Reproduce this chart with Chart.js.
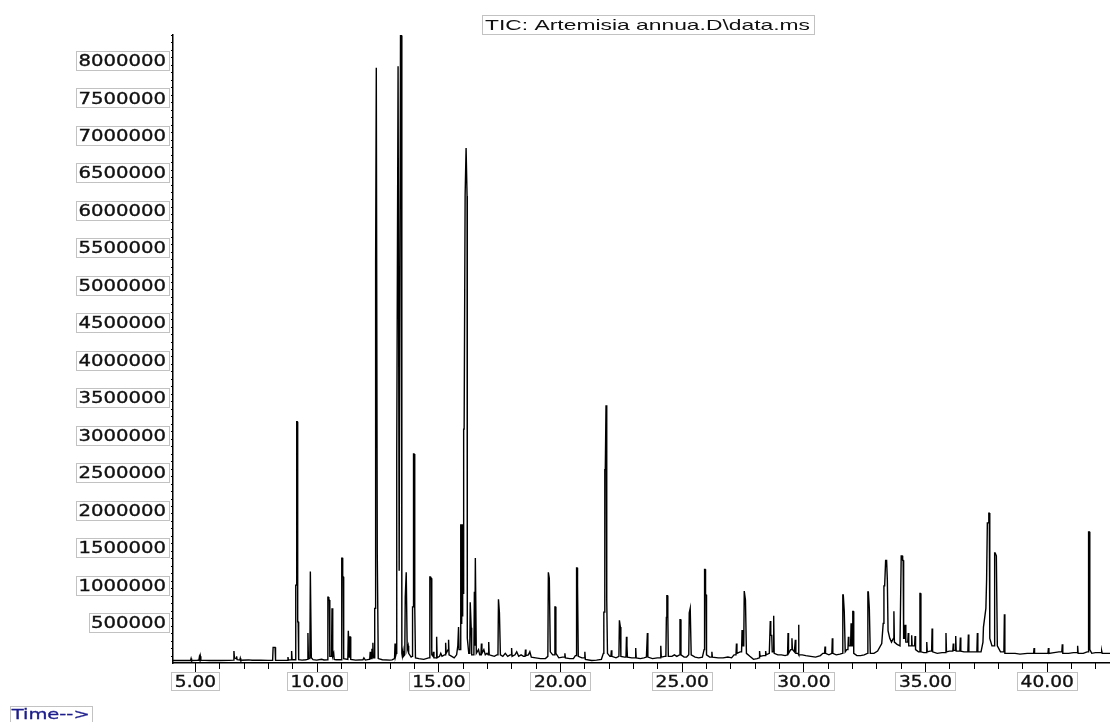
<!DOCTYPE html>
<html>
<head>
<meta charset="utf-8">
<script src="https://cdn.jsdelivr.net/npm/chart.js@4.4.1/dist/chart.umd.min.js"></script>
<style>
  html, body { margin: 0; padding: 0; background: #fff; }
  canvas { display: block; }
</style>
</head>
<body>
<canvas id="c" width="1110" height="722"></canvas>
<script>
// ---- Data: [retention time (min), abundance] ----
const segmentEarly = [
  [4.09,5000],[4.50,6000],[4.82,4000],[4.84,30000],[4.86,4000],[5.10,8000],[5.16,10000],[5.18,50000],[5.20,20000],[5.22,60000],[5.24,10000],
  [5.60,5000],[6.00,4000],[6.40,6000],[6.58,10000],[6.60,130000],[6.62,40000],[6.69,30000],[6.71,60000],[6.73,15000],[6.84,10000],[6.86,35000],[6.88,8000],
  [7.20,12000],[7.35,8000],[7.70,8000],[8.00,6000],[8.19,8000],[8.21,180000],[8.29,180000],[8.31,8000],[8.60,6000],[8.80,8000],
  [8.82,50000],[8.84,10000],[8.95,15000],[8.97,130000],[8.99,15000],[9.13,15000],[9.14,1010000],[9.16,1010000],[9.18,3190000],[9.20,3190000],
  [9.22,520000],[9.24,520000],[9.26,15000],[9.40,10000],[9.55,15000],[9.62,20000],[9.64,370000],[9.66,30000],[9.72,30000],[9.74,1190000],
  [9.76,1190000],[9.78,40000],[9.85,15000],[10.00,10000],[10.20,20000],[10.30,12000],[10.44,15000],[10.46,850000],[10.48,850000],[10.50,810000],
  [10.52,810000],[10.54,60000],[10.61,60000],[10.63,700000],[10.65,700000],[10.67,60000],[10.70,100000],[10.72,20000],[10.80,15000],[11.00,15000],
  [11.02,20000],[11.04,1370000],[11.06,1370000],[11.07,1120000],[11.09,1120000],[11.11,30000],[11.28,20000],[11.30,400000],[11.32,400000],[11.34,50000],
  [11.36,320000],[11.38,320000],[11.40,20000],[11.60,10000],[11.90,15000],[11.94,40000],[12.00,10000],[12.15,20000],[12.18,20000],[12.20,120000],
  [12.22,30000],[12.25,30000],[12.27,160000],[12.29,60000],[12.31,240000],[12.33,40000],[12.37,40000],[12.385,700000],[12.40,700000],[12.415,5320000],
  [12.43,5320000],[12.45,7910000],[12.47,7910000],[12.49,1420000],[12.51,1420000],[12.53,30000],[12.70,15000]
];
const segmentMid = [
  [13.00,10000],[13.10,12000],[13.20,30000],[13.22,230000],[13.24,60000],[13.27,100000],[13.28,2770000],[13.30,2770000],[13.345,7930000],[13.365,7930000],
  [13.39,1200000],[13.42,1200000],[13.445,8340000],[13.48,8340000],[13.50,100000],[13.52,60000],[13.55,130000],[13.57,60000],[13.62,80000],[13.64,850000],
  [13.66,850000],[13.68,1180000],[13.70,1180000],[13.72,150000],[13.76,200000],[13.78,100000],[13.88,50000],[13.92,60000],[13.94,720000],[13.96,720000],
  [13.98,2760000],[14.00,2760000],[14.02,720000],[14.04,720000],[14.06,40000],[14.20,30000],[14.40,20000],[14.60,40000],[14.63,40000],[14.65,1120000],
  [14.67,1120000],[14.69,1100000],[14.71,1100000],[14.73,80000],[14.78,60000],[14.80,120000],[14.82,40000],[14.91,40000],[14.93,320000],[14.95,40000],
  [15.05,60000],[15.10,100000],[15.15,60000],[15.25,80000],[15.28,80000],[15.30,240000],[15.32,100000],[15.40,150000],[15.42,280000],[15.44,80000],
  [15.55,60000],[15.65,40000],[15.75,80000],[15.80,200000],[15.83,450000],[15.85,150000],[15.90,150000],[15.92,1820000],[15.94,500000],[15.96,1820000],
  [15.98,600000],[16.00,1820000],[16.02,900000],[16.04,3090000],[16.06,3090000],[16.10,6200000],[16.14,6840000],[16.16,6840000],[16.18,6200000],[16.19,300000],
  [16.25,100000],[16.29,100000],[16.31,780000],[16.33,780000],[16.35,440000],[16.37,80000],[16.46,80000],[16.48,920000],[16.50,200000],[16.52,1370000],
  [16.54,1370000],[16.56,100000],[16.65,150000],[16.70,80000],[16.75,80000],[16.77,230000],[16.79,100000],[16.87,150000],[16.93,80000],[17.00,100000],
  [17.05,80000],[17.07,250000],[17.09,80000],[17.20,70000],[17.30,60000],[17.40,80000],[17.45,80000],[17.47,820000],[17.49,820000],[17.51,640000],
  [17.53,640000],[17.55,80000],[17.65,60000],[17.75,100000],[17.85,60000],[17.95,80000],[17.99,80000],[18.01,170000],[18.03,60000],[18.15,80000],
  [18.22,120000],[18.30,60000],[18.40,80000],[18.50,60000],[18.56,60000],[18.58,150000],[18.60,70000],[18.70,80000],[18.76,120000],[18.82,50000],
  [19.00,40000],[19.20,30000],[19.40,30000],[19.50,60000],[19.52,1180000],[19.54,1180000],[19.56,1100000],[19.58,1100000],[19.60,120000],[19.70,80000],
  [19.77,80000],[19.79,720000],[19.81,720000],[19.83,100000],[19.95,40000],[20.10,50000],[20.18,50000],[20.20,100000],[20.22,40000],[20.40,30000],
  [20.55,30000],[20.63,70000],[20.66,70000],[20.68,1240000],[20.70,1240000],[20.71,1000000],[20.73,1000000],[20.75,60000],[20.90,40000]
];
const segmentLate = [
  [21.00,40000],[21.02,120000],[21.04,20000],[21.30,5000],[21.50,10000],[21.70,20000],[21.78,100000],[21.80,650000],[21.82,650000],[21.84,2550000],
  [21.86,2550000],[21.89,3410000],[21.91,3410000],[21.93,800000],[21.95,100000],[22.05,60000],[22.09,60000],[22.11,140000],[22.13,60000],[22.30,40000],
  [22.42,60000],[22.44,540000],[22.46,540000],[22.48,450000],[22.50,60000],[22.65,50000],[22.71,50000],[22.73,320000],[22.75,200000],[22.77,50000],
  [22.95,40000],[23.09,40000],[23.11,170000],[23.13,40000],[23.30,30000],[23.45,40000],[23.55,50000],[23.57,50000],[23.59,370000],[23.61,50000],
  [23.80,30000],[24.00,40000],[24.12,40000],[24.14,200000],[24.16,50000],[24.30,60000],[24.35,60000],[24.37,580000],[24.39,870000],[24.41,870000],
  [24.43,600000],[24.45,60000],[24.60,60000],[24.70,80000],[24.80,60000],[24.91,80000],[24.93,550000],[24.95,550000],[24.97,80000],[25.10,50000],
  [25.20,50000],[25.29,80000],[25.31,640000],[25.33,640000],[25.35,700000],[25.37,700000],[25.39,80000],[25.55,50000],[25.70,40000],[25.85,50000],
  [25.92,150000],[25.94,1220000],[25.96,1220000],[25.98,880000],[26.00,880000],[26.02,80000],[26.15,50000],[26.22,50000],[26.24,120000],[26.26,50000],
  [26.50,40000],[26.70,40000],[26.90,50000],[27.05,40000],[27.15,80000],[27.23,80000],[27.25,230000],[27.27,100000],[27.40,120000],[27.46,120000],
  [27.48,410000],[27.50,200000],[27.55,200000],[27.57,930000],[27.59,930000],[27.62,810000],[27.64,810000],[27.66,100000],[27.80,60000],[27.95,20000],
  [28.10,30000],[28.18,40000],[28.20,130000],[28.22,60000],[28.35,70000],[28.43,70000],[28.45,130000],[28.47,80000],[28.60,100000],[28.62,100000],
  [28.64,530000],[28.66,340000],[28.70,340000],[28.72,120000],[28.76,120000],[28.78,600000],[28.80,100000],[28.95,80000],[29.10,80000],[29.25,70000],
  [29.35,80000],[29.37,370000],[29.39,100000],[29.48,150000],[29.51,150000],[29.53,300000],[29.55,150000],[29.63,120000],[29.65,120000],[29.67,280000],
  [29.69,100000],[29.78,100000],[29.80,480000],[29.82,80000],[29.95,80000]
];
const segmentEnd = [
  [30.10,70000],[30.30,60000],[30.50,50000],[30.70,70000],[30.80,100000],[30.87,100000],[30.89,190000],[30.91,100000],[31.05,80000],[31.17,100000],
  [31.19,300000],[31.21,100000],[31.35,80000],[31.50,90000],[31.60,100000],[31.62,880000],[31.64,880000],[31.68,660000],[31.70,660000],[31.72,120000],
  [31.78,150000],[31.83,150000],[31.85,320000],[31.87,200000],[31.94,200000],[31.96,500000],[31.98,200000],[32.01,200000],[32.03,660000],[32.05,660000],
  [32.07,100000],[32.20,70000],[32.35,70000],[32.50,80000],[32.63,100000],[32.65,920000],[32.67,920000],[32.71,700000],[32.73,700000],[32.75,100000],
  [32.90,100000],[33.05,130000],[33.22,230000],[33.28,500000],[33.31,1000000],[33.34,1000000],[33.38,1340000],[33.42,1340000],[33.45,1080000],[33.48,400000],
  [33.55,300000],[33.62,250000],[33.70,300000],[33.72,660000],[33.74,250000],[33.85,220000],[33.97,200000],[34.02,1400000],[34.06,1400000],[34.08,1340000],
  [34.10,1340000],[34.12,300000],[34.16,300000],[34.18,480000],[34.21,250000],[34.29,250000],[34.31,370000],[34.33,200000],[34.43,200000],[34.45,340000],
  [34.47,200000],[34.57,200000],[34.59,330000],[34.61,150000],[34.73,120000],[34.77,120000],[34.79,900000],[34.81,900000],[34.83,120000],[34.95,110000],
  [35.05,110000],[35.07,250000],[35.09,120000],[35.20,130000],[35.27,130000],[35.29,430000],[35.31,120000],[35.50,100000],[35.70,110000],[35.84,110000],
  [35.86,370000],[35.88,120000],[36.00,130000],[36.14,130000],[36.16,230000],[36.18,140000],[36.24,140000],[36.26,330000],[36.28,130000],[36.43,130000],
  [36.45,310000],[36.47,130000],[36.60,120000],[36.76,120000],[36.78,350000],[36.80,120000],[36.95,120000],[37.13,120000],[37.15,370000],[37.17,120000],
  [37.30,120000],[37.38,250000],[37.40,450000],[37.50,700000],[37.53,1090000],[37.56,1840000],[37.59,1840000],[37.62,1970000],[37.64,1970000],[37.66,300000],
  [37.75,200000],[37.84,200000],[37.86,1440000],[37.88,1440000],[37.93,1400000],[37.95,1400000],[37.97,200000],[38.10,120000],[38.24,120000],[38.26,620000],
  [38.28,100000],[38.45,100000],[38.70,100000],[38.90,90000],[39.20,100000],[39.46,100000],[39.48,170000],[39.50,100000],[39.75,100000],[40.05,100000],
  [40.07,170000],[40.09,100000],[40.30,110000],[40.50,120000],[40.62,120000],[40.64,220000],[40.66,100000],[40.90,100000],[41.10,110000],[41.25,110000],
  [41.27,200000],[41.29,100000],[41.50,100000],[41.66,120000],[41.70,120000],[41.71,880000],[41.73,1720000],[41.75,1720000],[41.77,150000],[41.85,100000],
  [42.00,110000],[42.24,110000],[42.26,130000],[42.28,100000],[42.60,100000]
];

// ---- Axis ticks / labels ----
const xTickValues = [5, 10, 15, 20, 25, 30, 35, 40];
const xTickLabels = ['5.00', '10.00', '15.00', '20.00', '25.00', '30.00', '35.00', '40.00'];
const yTickValues = [500000, 1000000, 1500000, 2000000, 2500000, 3000000, 3500000, 4000000,
                     4500000, 5000000, 5500000, 6000000, 6500000, 7000000, 7500000, 8000000];
const yTickLabels = ['500000', '1000000', '1500000', '2000000', '2500000', '3000000', '3500000', '4000000',
                     '4500000', '5000000', '5500000', '6000000', '6500000', '7000000', '7500000', '8000000'];
const titleText = 'TIC: Artemisia annua.D\\data.ms';
const xAxisText = 'Time-->';

const trace = [].concat(segmentEarly, segmentMid, segmentLate, segmentEnd).map(p => ({ x: p[0], y: p[1] }));

function drawStretched(ctx, text, left, baseline, sx, emb) {
  ctx.save();
  ctx.translate(left, baseline);
  ctx.scale(sx, 1);
  ctx.textAlign = 'left';
  ctx.textBaseline = 'alphabetic';
  ctx.fillText(text, 0, 0);
  if (emb) {
    ctx.strokeStyle = ctx.fillStyle;
    ctx.lineWidth = emb;
    ctx.strokeText(text, 0, 0);
  }
  ctx.restore();
}
function boxRect(ctx, l, t, r, b) {
  ctx.strokeStyle = '#c2c2c2';
  ctx.lineWidth = 1;
  ctx.strokeRect(Math.round(l) + 0.5, Math.round(t) + 0.5, Math.round(r - l), Math.round(b - t));
}

const decorPlugin = {
  id: 'decor',
  beforeDraw(chart) {
    const ctx = chart.ctx;
    ctx.save();
    ctx.fillStyle = '#fff';
    ctx.fillRect(0, 0, chart.width, chart.height);
    ctx.restore();
  },
  afterDraw(chart) {
    const ctx = chart.ctx;
    const xs = chart.scales.x, ys = chart.scales.y;
    const area = chart.chartArea;
    ctx.save();
    ctx.strokeStyle = '#000';
    ctx.lineWidth = 1;
    // x tick marks
    xs.ticks.forEach(t => {
      const px = Math.round(xs.getPixelForValue(t.value)) + 0.5;
      const major = xTickValues.indexOf(t.value) >= 0;
      ctx.beginPath();
      ctx.moveTo(px, area.bottom);
      ctx.lineTo(px, area.bottom + (major ? 10 : 6));
      ctx.stroke();
    });
    // y tick marks
    ys.ticks.forEach(t => {
      if (t.value <= 0) return;
      const py = Math.round(ys.getPixelForValue(t.value)) + 0.5;
      const major = yTickValues.indexOf(t.value) >= 0;
      ctx.beginPath();
      ctx.moveTo(area.left, py);
      ctx.lineTo(area.left - (major ? 4 : 2), py);
      ctx.stroke();
    });
    // x labels
    ctx.font = '15px "DejaVu Sans"';
    const sxX = 1.24;
    xTickValues.forEach((v, i) => {
      const px = xs.getPixelForValue(v);
      const w = ctx.measureText(xTickLabels[i]).width * sxX;
      const left = px + 0.5 - w / 2;
      boxRect(ctx, left - 3.5, 672, left + w + 3.5, 690);
      ctx.fillStyle = '#111';
      drawStretched(ctx, xTickLabels[i], left, 686.5, sxX, 0.35);
    });
    // y labels
    const sxY = 1.31;
    yTickValues.forEach((v, i) => {
      const py = ys.getPixelForValue(v);
      const w = ctx.measureText(yTickLabels[i]).width * sxY;
      const right = 166;
      boxRect(ctx, right - w - 2, py - 10.3, right + 3, py + 8.3);
      ctx.fillStyle = '#111';
      drawStretched(ctx, yTickLabels[i], right - w, py + 5, sxY, 0.35);
    });
    // title
    ctx.font = '15px "Liberation Sans"';
    let tw = ctx.measureText(titleText).width;
    boxRect(ctx, 481.5, 15, 813, 34);
    ctx.fillStyle = '#111';
    drawStretched(ctx, titleText, 485, 30, 325 / tw, 0);
    // time label
    ctx.font = '14px "DejaVu Sans"';
    tw = ctx.measureText(xAxisText).width;
    boxRect(ctx, 10, 705.5, 91.5, 721.5);
    ctx.fillStyle = '#1d1d8c';
    drawStretched(ctx, xAxisText, 11.7, 719, 78 / tw, 0.3);
    ctx.restore();
  }
};

new Chart(document.getElementById('c'), {
  type: 'line',
  data: {
    datasets: [{
      data: trace,
      borderColor: '#000',
      borderWidth: 1.4,
      pointRadius: 0,
      tension: 0,
      fill: false
    }]
  },
  options: {
    responsive: false,
    devicePixelRatio: 1,
    animation: false,
    events: [],
    layout: { padding: { left: 173, top: 35, right: 0, bottom: 59 } },
    plugins: { legend: { display: false }, tooltip: { enabled: false }, title: { display: false } },
    scales: {
      x: {
        type: 'linear',
        min: 4.096,
        max: 42.6,
        ticks: { display: false, stepSize: 1, includeBounds: false },
        grid: { display: false, drawTicks: false },
        border: { display: true, color: '#000', width: 1.5 }
      },
      y: {
        type: 'linear',
        min: -29000,
        max: 8347000,
        ticks: { display: false, stepSize: 100000, includeBounds: false },
        grid: { display: false, drawTicks: false },
        border: { display: true, color: '#000', width: 1.5 }
      }
    }
  },
  plugins: [decorPlugin]
});
</script>
</body>
</html>
